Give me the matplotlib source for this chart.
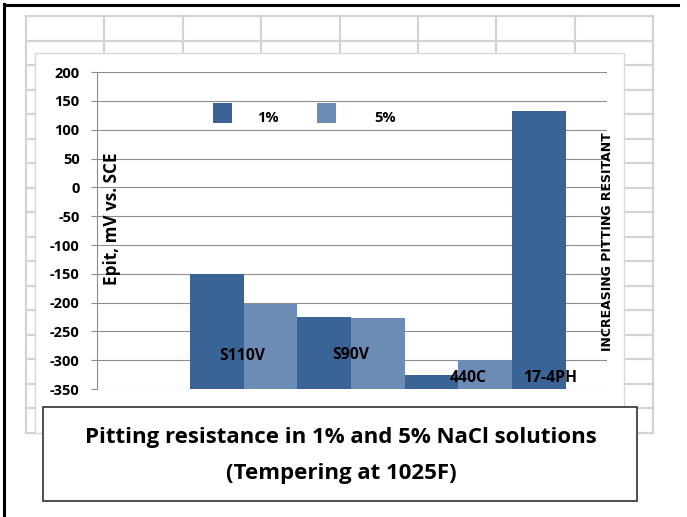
import numpy as np
import matplotlib
matplotlib.use('Agg')
import matplotlib.pyplot as plt
from matplotlib.patches import Rectangle

# pitting potential, mV vs. SCE
steels = ['S110V', 'S90V', '440C', '17-4PH']
epit_1 = [-150, -225, -325, 133]
epit_5 = [-203, -227, -300, np.nan]
series = ['1%', '5%']
yticks = [200, 150, 100, 50, 0, -50, -100, -150, -200, -250, -300, -350]

c1 = '#3a6396'
c5 = '#6d8cb5'
grid_c = '#d3d3d3'
font = ['Open Sans', 'DejaVu Sans']

W, H = 687, 517
fig = plt.figure(figsize=(W / 100, H / 100), dpi=100)

# background in pixel coordinates
bg = fig.add_axes([0, 0, 1, 1], zorder=0)
bg.set_xlim(0, W)
bg.set_ylim(H, 0)
bg.axis('off')

# sheet cells behind the chart
cols = np.linspace(26, 653, 9)
rows = np.linspace(16, 433, 18)
for cx in cols:
    bg.plot([cx, cx], [16, 433], color=grid_c, lw=1.6, zorder=1)
for ry in rows:
    bg.plot([26, 653], [ry, ry], color=grid_c, lw=1.6, zorder=1)

# chart area
bg.add_patch(Rectangle((35, 53), 589, 380, facecolor='white', edgecolor='#d9d9d9', lw=1.0, zorder=2))

# title box
bg.add_patch(Rectangle((43, 407), 594, 94, facecolor='white', edgecolor='#404040', lw=1.3, zorder=3))
bg.text(341, 438, 'Pitting resistance in 1% and 5% NaCl solutions', ha='center', va='center',
        fontsize=16, fontweight='bold', family=font, zorder=4)
bg.text(341, 474, '(Tempering at 1025F)', ha='center', va='center',
        fontsize=16, fontweight='bold', family=font, zorder=4)

# page frame
bg.plot([4, 4], [4, H], color='black', lw=2.2, zorder=5)
bg.plot([4, 678], [4.5, 4.5], color='black', lw=2.2, zorder=5)

# plot area
x0, x1 = 97, 607
ytop, ybot = 72.2, 389
ax = fig.add_axes([x0 / W, 1 - ybot / H, (x1 - x0) / W, (ybot - ytop) / H], zorder=1)
ax.patch.set_alpha(0)

g = np.arange(len(steels))
ymin = -350
ax.bar(g, np.array(epit_1) - ymin, bottom=ymin, width=0.5, align='edge', color=c1, zorder=3)
ax.bar(g + 0.5, np.array(epit_5) - ymin, bottom=ymin, width=0.5, align='edge', color=c5, zorder=3)

ax.set_xlim(-0.866, 3.883)
ax.set_ylim(-350, 200)
ax.set_yticks(yticks)
ax.set_yticklabels([str(v) for v in yticks], fontsize=10.5, fontweight='bold', family=font)
ax.set_xticks([])
ax.yaxis.grid(True, color='#8c8c8c', lw=0.8, zorder=0)
ax.set_axisbelow(True)
for s in ['top', 'right', 'bottom']:
    ax.spines[s].set_visible(False)
ax.spines['left'].set_color('#8c8c8c')
ax.spines['left'].set_linewidth(0.8)
ax.tick_params(axis='y', length=4.5, width=0.8, color='#8c8c8c', pad=8)

# steel names inside the bars
lab_x = [0.484, 1.494, 2.588, 3.352]
lab_y = [-293, -291, -331, -331]
for name, lx, ly in zip(steels, lab_x, lab_y):
    ax.text(lx, ly, name, ha='center', va='center', fontsize=11.3, fontweight='bold',
            family=font, zorder=5)

ax.text(0.029, 0.537, 'Epit, mV vs. SCE', transform=ax.transAxes, rotation=90,
        ha='center', va='center', fontsize=12.3, fontweight='bold', family=font, zorder=5)
ax.text(1.001, 0.466, 'INCREASING PITTING RESITANT', transform=ax.transAxes, rotation=90,
        ha='center', va='center', fontsize=9, fontweight='bold',
        family=['Liberation Sans Narrow', 'DejaVu Sans'], zorder=5, clip_on=False)

# legend keys: square (left, top) in pixels, label centre x
keys_x = [213, 317]
text_x = [267.5, 385.5]
for lab, col, kx, tx in zip(series, [c1, c5], keys_x, text_x):
    ax.add_patch(Rectangle(((kx - x0) / (x1 - x0), (ybot - 123) / (ybot - ytop)),
                           19 / (x1 - x0), 20 / (ybot - ytop), transform=ax.transAxes,
                           facecolor=col, edgecolor='none', zorder=5))
    ax.text((tx - x0) / (x1 - x0), (ybot - 118) / (ybot - ytop), lab, transform=ax.transAxes,
            ha='center', va='center', fontsize=10.5, fontweight='bold', family=font, zorder=5)

fig.savefig('out.png', dpi=100)
